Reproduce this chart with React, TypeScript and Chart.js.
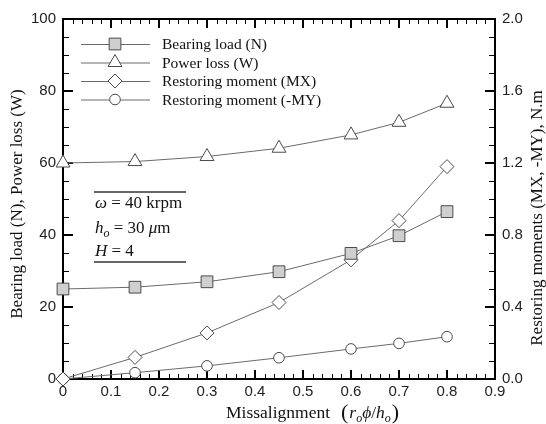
import React, { useEffect, useRef } from "react";
import { Chart, registerables } from "chart.js";

Chart.register(...registerables);

const xValues = [0, 0.15, 0.3, 0.45, 0.6, 0.7, 0.8];
const bearingLoad = [25, 25.5, 27, 29.8, 34.9, 39.8, 46.5];
const powerLoss = [60, 60.4, 61.8, 64.1, 67.8, 71.3, 76.6];
const momentMX = [0, 0.12, 0.256, 0.425, 0.662, 0.88, 1.18];
const momentMY = [0, 0.035, 0.073, 0.118, 0.167, 0.198, 0.235];

const seriesNames = [
  "Bearing load (N)",
  "Power loss (W)",
  "Restoring moment (MX)",
  "Restoring moment (-MY)",
];
const leftTitle = "Bearing load (N), Power loss (W)";
const rightTitle = "Restoring moments (MX, -MY), N.m";

const LINE = "#6a6a6a";
const EDGE = "#4a4a4a";
const SERIF = '"Liberation Serif", "Times New Roman", serif';
const SANS = '"Liberation Sans", Arial, sans-serif';

function drawMarker(ctx: CanvasRenderingContext2D, style: string, x: number, y: number, r: number, fill: string) {
  ctx.save();
  ctx.beginPath();
  if (style === "rect") {
    const s = Math.SQRT1_2 * r;
    ctx.rect(x - s, y - s, 2 * s, 2 * s);
  } else if (style === "triangle") {
    for (let i = 0; i < 3; i++) {
      const a = (i * 2 * Math.PI) / 3;
      const px = x + Math.sin(a) * r;
      const py = y - Math.cos(a) * r;
      if (i === 0) ctx.moveTo(px, py);
      else ctx.lineTo(px, py);
    }
    ctx.closePath();
  } else if (style === "rectRot") {
    ctx.moveTo(x - r, y);
    ctx.lineTo(x, y - r);
    ctx.lineTo(x + r, y);
    ctx.lineTo(x, y + r);
    ctx.closePath();
  } else {
    ctx.arc(x, y, r, 0, Math.PI * 2);
  }
  ctx.fillStyle = fill;
  ctx.fill();
  ctx.lineWidth = 1;
  ctx.strokeStyle = EDGE;
  ctx.stroke();
  ctx.restore();
}

const framePlugin = {
  id: "frame",
  beforeDatasetsDraw(chart: any) {
    const ctx: CanvasRenderingContext2D = chart.ctx;
    const { left, right, top, bottom } = chart.chartArea;
    const xs = chart.scales.x;
    const yl = chart.scales.y;
    ctx.save();
    ctx.strokeStyle = "#000";
    // minor ticks
    ctx.lineWidth = 1;
    ctx.beginPath();
    for (let i = 0; i <= 45; i++) {
      if (i % 5 === 0) continue;
      const px = Math.round(xs.getPixelForValue(i * 0.02)) + 0.5;
      ctx.moveTo(px, bottom);
      ctx.lineTo(px, bottom - 5);
      ctx.moveTo(px, top);
      ctx.lineTo(px, top + 5);
    }
    for (let i = 0; i <= 20; i++) {
      if (i % 4 === 0) continue;
      const py = Math.round(yl.getPixelForValue(i * 5)) + 0.5;
      ctx.moveTo(left, py);
      ctx.lineTo(left + 6, py);
      ctx.moveTo(right, py);
      ctx.lineTo(right - 6, py);
    }
    ctx.stroke();
    // major ticks
    ctx.lineWidth = 2;
    ctx.beginPath();
    for (let i = 0; i <= 9; i++) {
      const px = Math.round(xs.getPixelForValue(i * 0.1));
      ctx.moveTo(px, bottom);
      ctx.lineTo(px, bottom - 9);
      ctx.moveTo(px, top);
      ctx.lineTo(px, top + 9);
    }
    for (let i = 0; i <= 5; i++) {
      const py = Math.round(yl.getPixelForValue(i * 20));
      ctx.moveTo(left, py);
      ctx.lineTo(left + 10, py);
      ctx.moveTo(right, py);
      ctx.lineTo(right - 10, py);
    }
    ctx.stroke();
    ctx.lineWidth = 2;
    ctx.strokeRect(left, top, right - left, bottom - top);
    ctx.restore();
  },
  afterDatasetsDraw(chart: any) {
    const ctx: CanvasRenderingContext2D = chart.ctx;
    ctx.save();
    // legend
    const rows = [44, 62.5, 81, 99.5];
    chart.data.datasets.forEach((ds: any, i: number) => {
      const y = rows[i];
      ctx.strokeStyle = LINE;
      ctx.lineWidth = 1;
      ctx.beginPath();
      ctx.moveTo(81, y + 0.5);
      ctx.lineTo(150, y + 0.5);
      ctx.stroke();
      drawMarker(ctx, ds.pointStyle, 115, y, ds.pointRadius, ds.pointBackgroundColor);
      ctx.fillStyle = "#111";
      ctx.font = `15.5px ${SERIF}`;
      ctx.textBaseline = "middle";
      ctx.textAlign = "left";
      ctx.fillText(ds.label, 162, y + 1);
    });
    // parameter box
    ctx.strokeStyle = "#333";
    ctx.lineWidth = 1.5;
    ctx.beginPath();
    ctx.moveTo(94, 192);
    ctx.lineTo(186, 192);
    ctx.moveTo(94, 262);
    ctx.lineTo(186, 262);
    ctx.stroke();
    ctx.fillStyle = "#111";
    ctx.textBaseline = "alphabetic";
    const it = `italic 17px ${SERIF}`;
    const rm = `17px ${SERIF}`;
    const sub = `italic 12px ${SERIF}`;
    const runs = (parts: [string, string, number][], x0: number, y0: number) => {
      let x = x0;
      for (const [t, f, dy] of parts) {
        ctx.font = f;
        ctx.fillText(t, x, y0 + dy);
        x += ctx.measureText(t).width;
      }
    };
    runs([["ω", it, 0], [" = 40 krpm", rm, 0]], 95, 208);
    runs([["h", it, 0], ["o", sub, 4], [" = 30 ", rm, 0], ["μ", it, 0], ["m", rm, 0]], 95, 233);
    runs([["H", it, 0], [" = 4", rm, 0]], 95, 256);
    ctx.restore();
  },
  afterDraw(chart: any) {
    const ctx: CanvasRenderingContext2D = chart.ctx;
    ctx.save();
    ctx.fillStyle = "#111";
    ctx.font = `17px ${SERIF}`;
    ctx.textAlign = "center";
    ctx.textBaseline = "middle";
    ctx.save();
    ctx.translate(18, 204);
    ctx.rotate(-Math.PI / 2);
    ctx.fillText(leftTitle, 0, 0);
    ctx.restore();
    ctx.save();
    ctx.translate(538, 218);
    ctx.rotate(-Math.PI / 2);
    ctx.fillText(rightTitle, 0, 0);
    ctx.restore();
    // x title
    ctx.textAlign = "left";
    ctx.textBaseline = "alphabetic";
    const base = 418;
    let x = 226;
    const put = (t: string, f: string, dy = 0) => {
      ctx.font = f;
      ctx.fillText(t, x, base + dy);
      x += ctx.measureText(t).width;
    };
    put("Missalignment", `17.5px ${SERIF}`);
    x += 11;
    put("(", `22px ${SERIF}`, 1);
    x += 1;
    put("r", `italic 17.5px ${SERIF}`);
    put("o", `italic 12px ${SERIF}`, 4);
    put("ϕ", `italic 17.5px ${SERIF}`);
    put("/", `17.5px ${SERIF}`);
    put("h", `italic 17.5px ${SERIF}`);
    put("o", `italic 12px ${SERIF}`, 4);
    x += 1;
    put(")", `22px ${SERIF}`, 1);
    ctx.restore();
  },
};

export default function App() {
  const ref = useRef<HTMLCanvasElement | null>(null);
  useEffect(() => {
    document.body.style.margin = "0";
    const canvas = ref.current;
    if (!canvas) return;
    const mk = (ys: number[]) => xValues.map((x, i) => ({ x, y: ys[i] }));
    const common = {
      borderColor: LINE,
      borderWidth: 1,
      pointBorderColor: EDGE,
      pointBorderWidth: 1,
      pointHoverRadius: 0,
      tension: 0,
      clip: false as any,
      showLine: true,
    };
    const chart = new Chart(canvas, {
      type: "line",
      data: {
        datasets: [
          { ...common, label: seriesNames[0], data: mk(bearingLoad), yAxisID: "y", pointStyle: "rect", pointRadius: 8.3, pointBackgroundColor: "#cfcfcf" },
          { ...common, label: seriesNames[1], data: mk(powerLoss), yAxisID: "y", pointStyle: "triangle", pointRadius: 8, pointBackgroundColor: "#ffffff" },
          { ...common, label: seriesNames[2], data: mk(momentMX), yAxisID: "y2", pointStyle: "rectRot", pointRadius: 7, pointBackgroundColor: "#ffffff" },
          { ...common, label: seriesNames[3], data: mk(momentMY), yAxisID: "y2", pointStyle: "circle", pointRadius: 5.3, pointBackgroundColor: "#ffffff" },
        ] as any,
      },
      options: {
        animation: false,
        responsive: false,
        devicePixelRatio: 1,
        layout: { padding: { top: 19, left: 0, right: 0, bottom: 0 } },
        plugins: { legend: { display: false }, tooltip: { enabled: false } },
        events: [],
        scales: {
          x: {
            type: "linear",
            min: 0,
            max: 0.9,
            grid: { display: false, drawTicks: false },
            border: { display: false },
            ticks: {
              stepSize: 0.1,
              padding: 4,
              color: "#222",
              font: { family: SANS, size: 15 },
              callback: (v: any) => (Math.abs(v) < 1e-9 ? "0" : Number(v).toFixed(1)),
            },
            afterFit: (s: any) => { s.height = 45; },
          },
          y: {
            type: "linear",
            position: "left",
            min: 0,
            max: 100,
            grid: { display: false, drawTicks: false },
            border: { display: false },
            ticks: { stepSize: 20, padding: 7, color: "#222", font: { family: SANS, size: 15 } },
            afterFit: (s: any) => { s.width = 63; },
          },
          y2: {
            type: "linear",
            position: "right",
            min: 0,
            max: 2,
            grid: { display: false, drawTicks: false },
            border: { display: false },
            ticks: {
              stepSize: 0.4,
              padding: 7,
              color: "#222",
              font: { family: SANS, size: 15 },
              callback: (v: any) => Number(v).toFixed(1),
            },
            afterFit: (s: any) => { s.width = 51; },
          },
        },
      } as any,
      plugins: [framePlugin],
    });
    return () => chart.destroy();
  }, []);
  return (
    <div style={{ width: 546, height: 424 }}>
      <canvas ref={ref} width={546} height={424} style={{ display: "block", width: 546, height: 424 }} />
    </div>
  );
}
